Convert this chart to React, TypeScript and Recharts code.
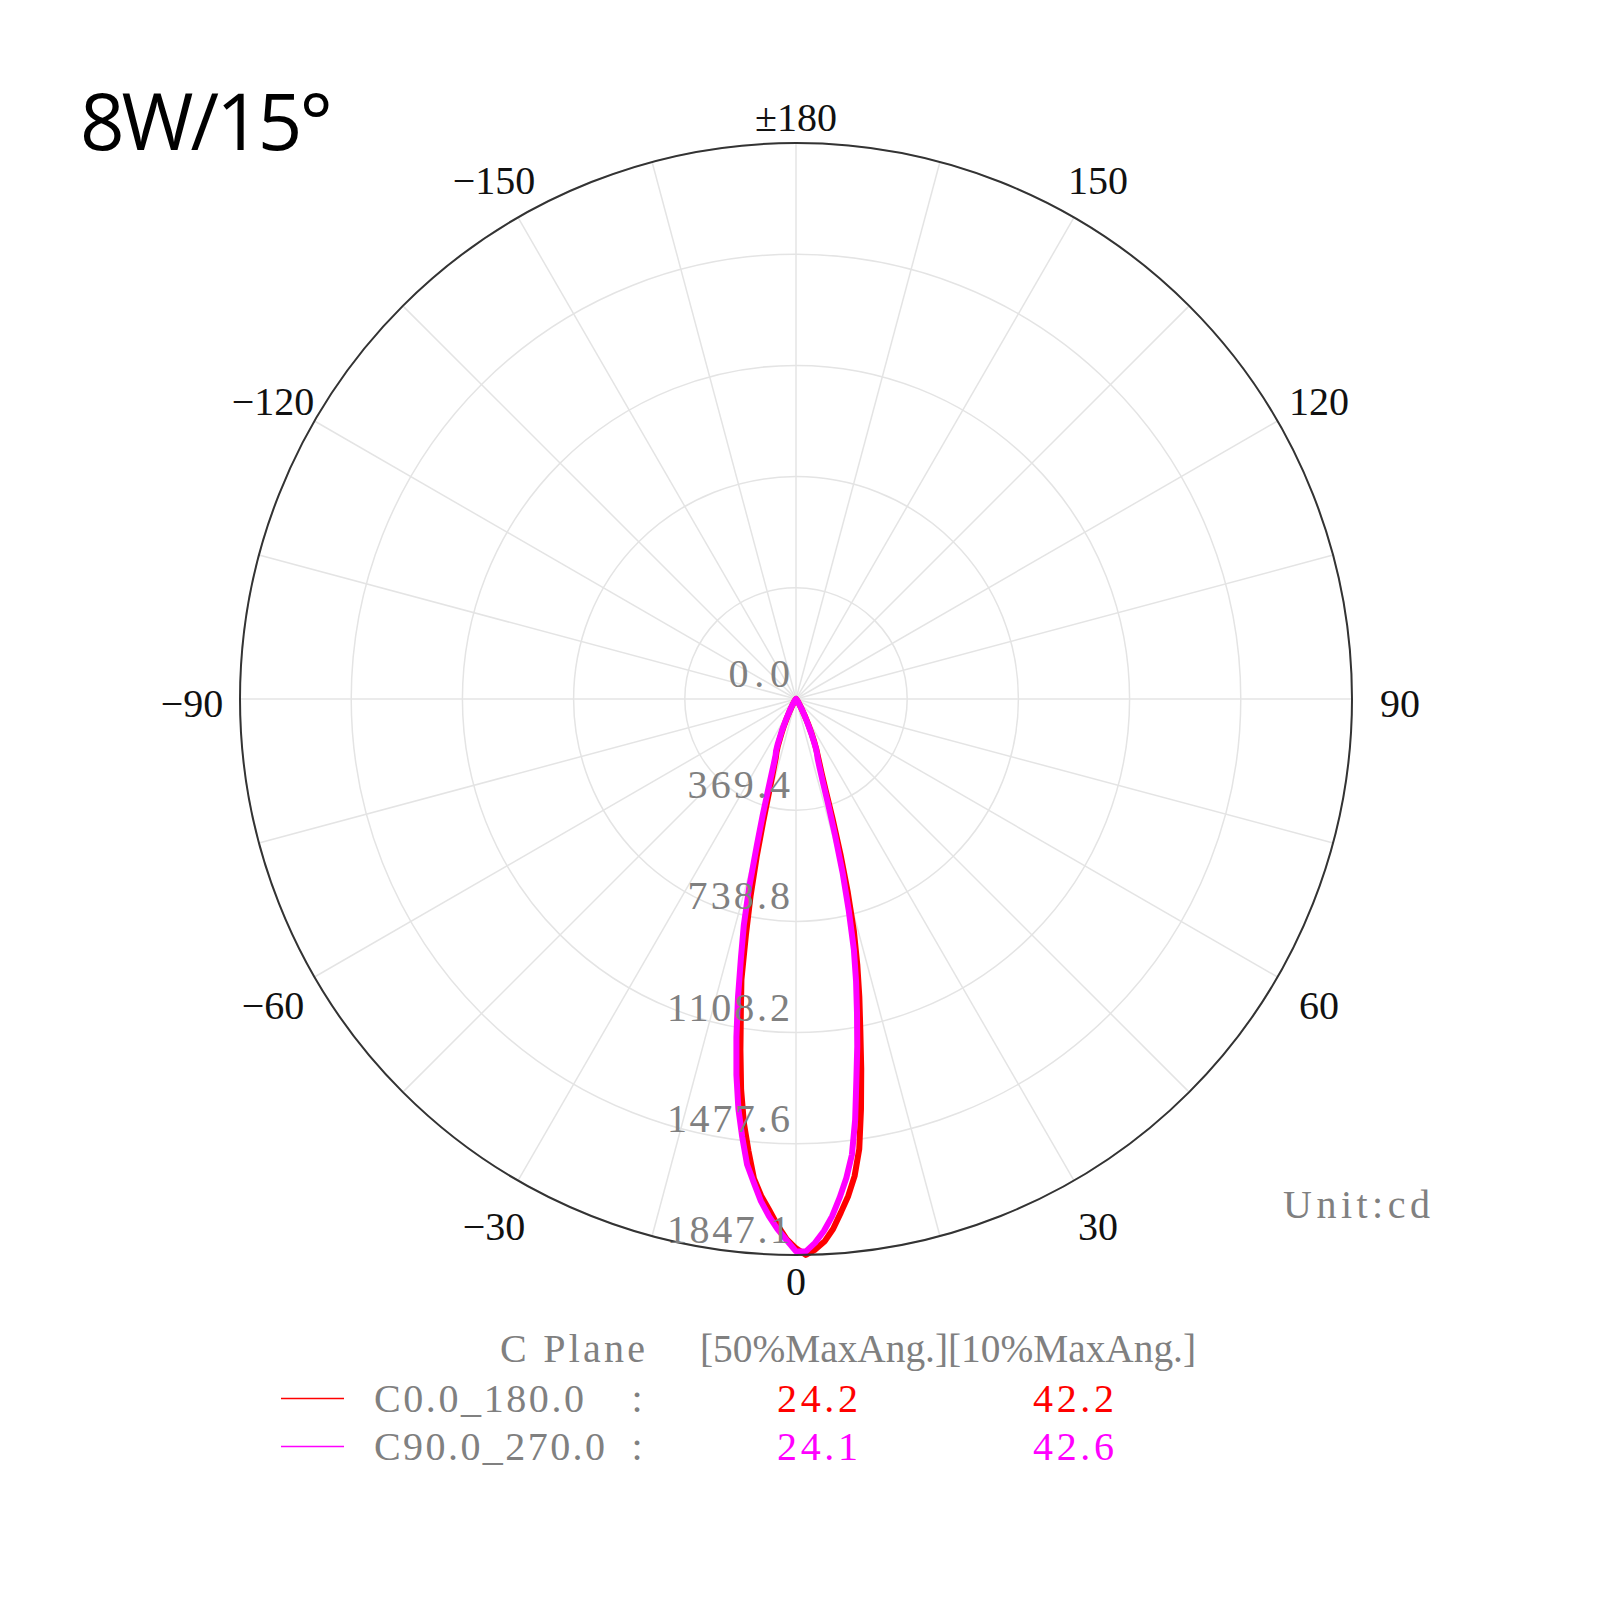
import { Legend, PolarAngleAxis, PolarGrid, PolarRadiusAxis, Radar, RadarChart } from 'recharts';

// gamma angle in degrees, 0 = straight down, positive towards the right
const gammaAngles = [
  -180, -150, -120, -90, -60, -45, -40, -35, -30, -28, -26,
  -24, -23, -22, -21, -20, -19, -18, -17, -16, -15, -14, -13,
  -12, -11, -10, -9, -8, -7, -6, -5, -4, -3, -2, -1,
  0,
  1, 2, 3, 4, 5, 6, 7, 8, 9, 10, 11, 12,
  13, 14, 15, 16, 17, 18, 19, 20, 21, 22, 23, 24,
  26, 28, 30, 35, 40, 45, 60, 90, 120, 150, 180,
];

// intensity (cd), C0-180 plane
const c0Values = [
  0, 0, 0, 0, 0, 0, 2, 8, 24, 40, 66,
  102, 122, 143, 170, 190, 206, 235, 272, 330, 420, 540, 670,
  800, 950, 1055, 1180, 1310, 1420, 1510, 1600, 1655, 1700, 1750, 1795,
  1825,
  1847, 1830, 1805, 1765, 1712, 1660, 1597, 1510, 1380, 1248, 1120, 1012,
  905, 795, 665, 535, 415, 320, 262, 228, 202, 180, 156, 132,
  90, 58, 36, 12, 4, 0, 0, 0, 0, 0, 0,
];

// intensity (cd), C90-270 plane
const c90Values = [
  0, 0, 0, 0, 0, 0, 3, 9, 28, 46, 75,
  115, 135, 163, 185, 198, 225, 265, 320, 400, 500, 640, 770,
  880, 1010, 1140, 1265, 1375, 1466, 1555, 1612, 1672, 1720, 1762, 1798,
  1835,
  1836, 1808, 1770, 1722, 1663, 1600, 1525, 1412, 1282, 1172, 1062, 960,
  855, 725, 600, 470, 365, 285, 240, 210, 195, 175, 148, 124,
  82, 52, 32, 11, 4, 0, 0, 0, 0, 0, 0,
];

const angleTicks = [-150, -120, -90, -60, -30, 0, 30, 60, 90, 120, 150, 180];
const radiusTicks = [0, 369.4, 738.8, 1108.2, 1477.6, 1847.1];
const gridAngles = [0, 15, 30, 45, 60, 75, 90, 105, 120, 135, 150, 165, 180, 195, 210, 225, 240, 255, 270, 285, 300, 315, 330, 345];

const seriesNames = ['C0.0_180.0', 'C90.0_270.0'];
const seriesColors = ['#ff0000', '#ff00ff'];
const halfMaxAngles = [24.2, 24.1];
const tenthMaxAngles = [42.2, 42.6];

const CX = 796;
const CY = 699;
const R = 556;
const GRAY = '#808080';
const SERIF = '"Liberation Serif", "Times New Roman", serif';

const rows = gammaAngles.map((gamma, i) => ({ gamma, c0: c0Values[i], c90: c90Values[i] }));

function angleLabel(v: number) {
  if (v === 180) return '±180';
  if (v < 0) return '\u2212' + Math.abs(v);
  return String(v);
}

function AngleTick(props: any) {
  const v = props.payload.value;
  const rad = (v * Math.PI) / 180;
  const vertical = v === 0 || v === 180;
  const r = vertical ? R + 26 : R + 48;
  const x = CX + r * Math.sin(rad);
  const y = CY + r * Math.cos(rad) + (vertical ? 0 : 4);
  return (
    <text x={x} y={y} dy="0.34em" textAnchor="middle" fill="#111" fontSize={40} fontFamily={SERIF}>
      {angleLabel(v)}
    </text>
  );
}

function RadiusTick(props: any) {
  const { x, y, payload } = props;
  const label = Number(payload.value).toFixed(1);
  return (
    <text
      x={x - 6}
      y={y - 12}
      textAnchor="end"
      fill={GRAY}
      fontSize={40}
      fontFamily={SERIF}
      textLength={label.length * 20.5}
    >
      {label}
    </text>
  );
}

function renderLegend() {
  return (
    <svg width={1600} height={200}>
      <text x={500} y={62} fill={GRAY} fontSize={40} fontFamily={SERIF} textLength={145}>
        C Plane
      </text>
      <text
        x={700}
        y={62}
        fill={GRAY}
        fontSize={40}
        fontFamily={SERIF}
        textLength={496}
        lengthAdjust="spacingAndGlyphs"
      >
        [50%MaxAng.][10%MaxAng.]
      </text>
      {seriesNames.map((name, i) => {
        const y = 98.5 + i * 48;
        return (
          <g key={name}>
            <line x1={281} x2={344} y1={y} y2={y} stroke={seriesColors[i]} strokeWidth={1.5} />
            <text x={374} y={y + 13.5} fill={GRAY} fontSize={40} fontFamily={SERIF} textLength={name.length * 21}>
              {name}
            </text>
            <text x={637} y={y + 13.5} fill={GRAY} fontSize={40} fontFamily={SERIF} textAnchor="middle">
              :
            </text>
            <text x={777} y={y + 13.5} fill={seriesColors[i]} fontSize={40} fontFamily={SERIF} textLength={81}>
              {halfMaxAngles[i].toFixed(1)}
            </text>
            <text x={1033} y={y + 13.5} fill={seriesColors[i]} fontSize={40} fontFamily={SERIF} textLength={81}>
              {tenthMaxAngles[i].toFixed(1)}
            </text>
          </g>
        );
      })}
    </svg>
  );
}

export default function App() {
  return (
    <div style={{ position: 'absolute', left: 0, top: 0, width: 1600, height: 1600, background: '#fff' }}>
      <RadarChart
        width={1600}
        height={1600}
        data={rows}
        cx={CX}
        cy={CY}
        outerRadius={R}
        startAngle={90}
        endAngle={450}
        margin={{ top: 0, right: 0, bottom: 0, left: 0 }}
      >
        <PolarGrid gridType="circle" polarAngles={gridAngles} stroke="#e4e4e4" strokeWidth={1.5} />
        <PolarAngleAxis
          dataKey="gamma"
          type="number"
          domain={[-180, 180]}
          ticks={angleTicks}
          tick={AngleTick}
          tickLine={false}
          axisLineType="circle"
          axisLine={{ stroke: '#333', strokeWidth: 2 }}
        />
        <PolarRadiusAxis
          angle={-90}
          type="number"
          domain={[0, 1847.1]}
          ticks={radiusTicks}
          tick={RadiusTick}
          axisLine={false}
          tickLine={false}
        />
        <Radar
          name={seriesNames[0]}
          dataKey="c0"
          stroke={seriesColors[0]}
          strokeWidth={6}
          strokeLinejoin="round"
          fill="none"
          dot={false}
          isAnimationActive={false}
        />
        <Radar
          name={seriesNames[1]}
          dataKey="c90"
          stroke={seriesColors[1]}
          strokeWidth={6}
          strokeLinejoin="round"
          fill="none"
          dot={false}
          isAnimationActive={false}
        />
        <Legend
          content={renderLegend}
          wrapperStyle={{ position: 'absolute', left: 0, top: 1300, width: 1600, height: 200 }}
        />
      </RadarChart>
      <svg
        width={1600}
        height={1600}
        style={{ position: 'absolute', left: 0, top: 0, pointerEvents: 'none' }}
      >
        <text x={80} y={150} fill="#000" fontSize={78} fontFamily='"Open Sans", sans-serif' letterSpacing={-3}>
          8W/15°
        </text>
        <text x={1283} y={1218} fill={GRAY} fontSize={40} fontFamily={SERIF} textLength={147}>
          Unit:cd
        </text>
      </svg>
    </div>
  );
}
